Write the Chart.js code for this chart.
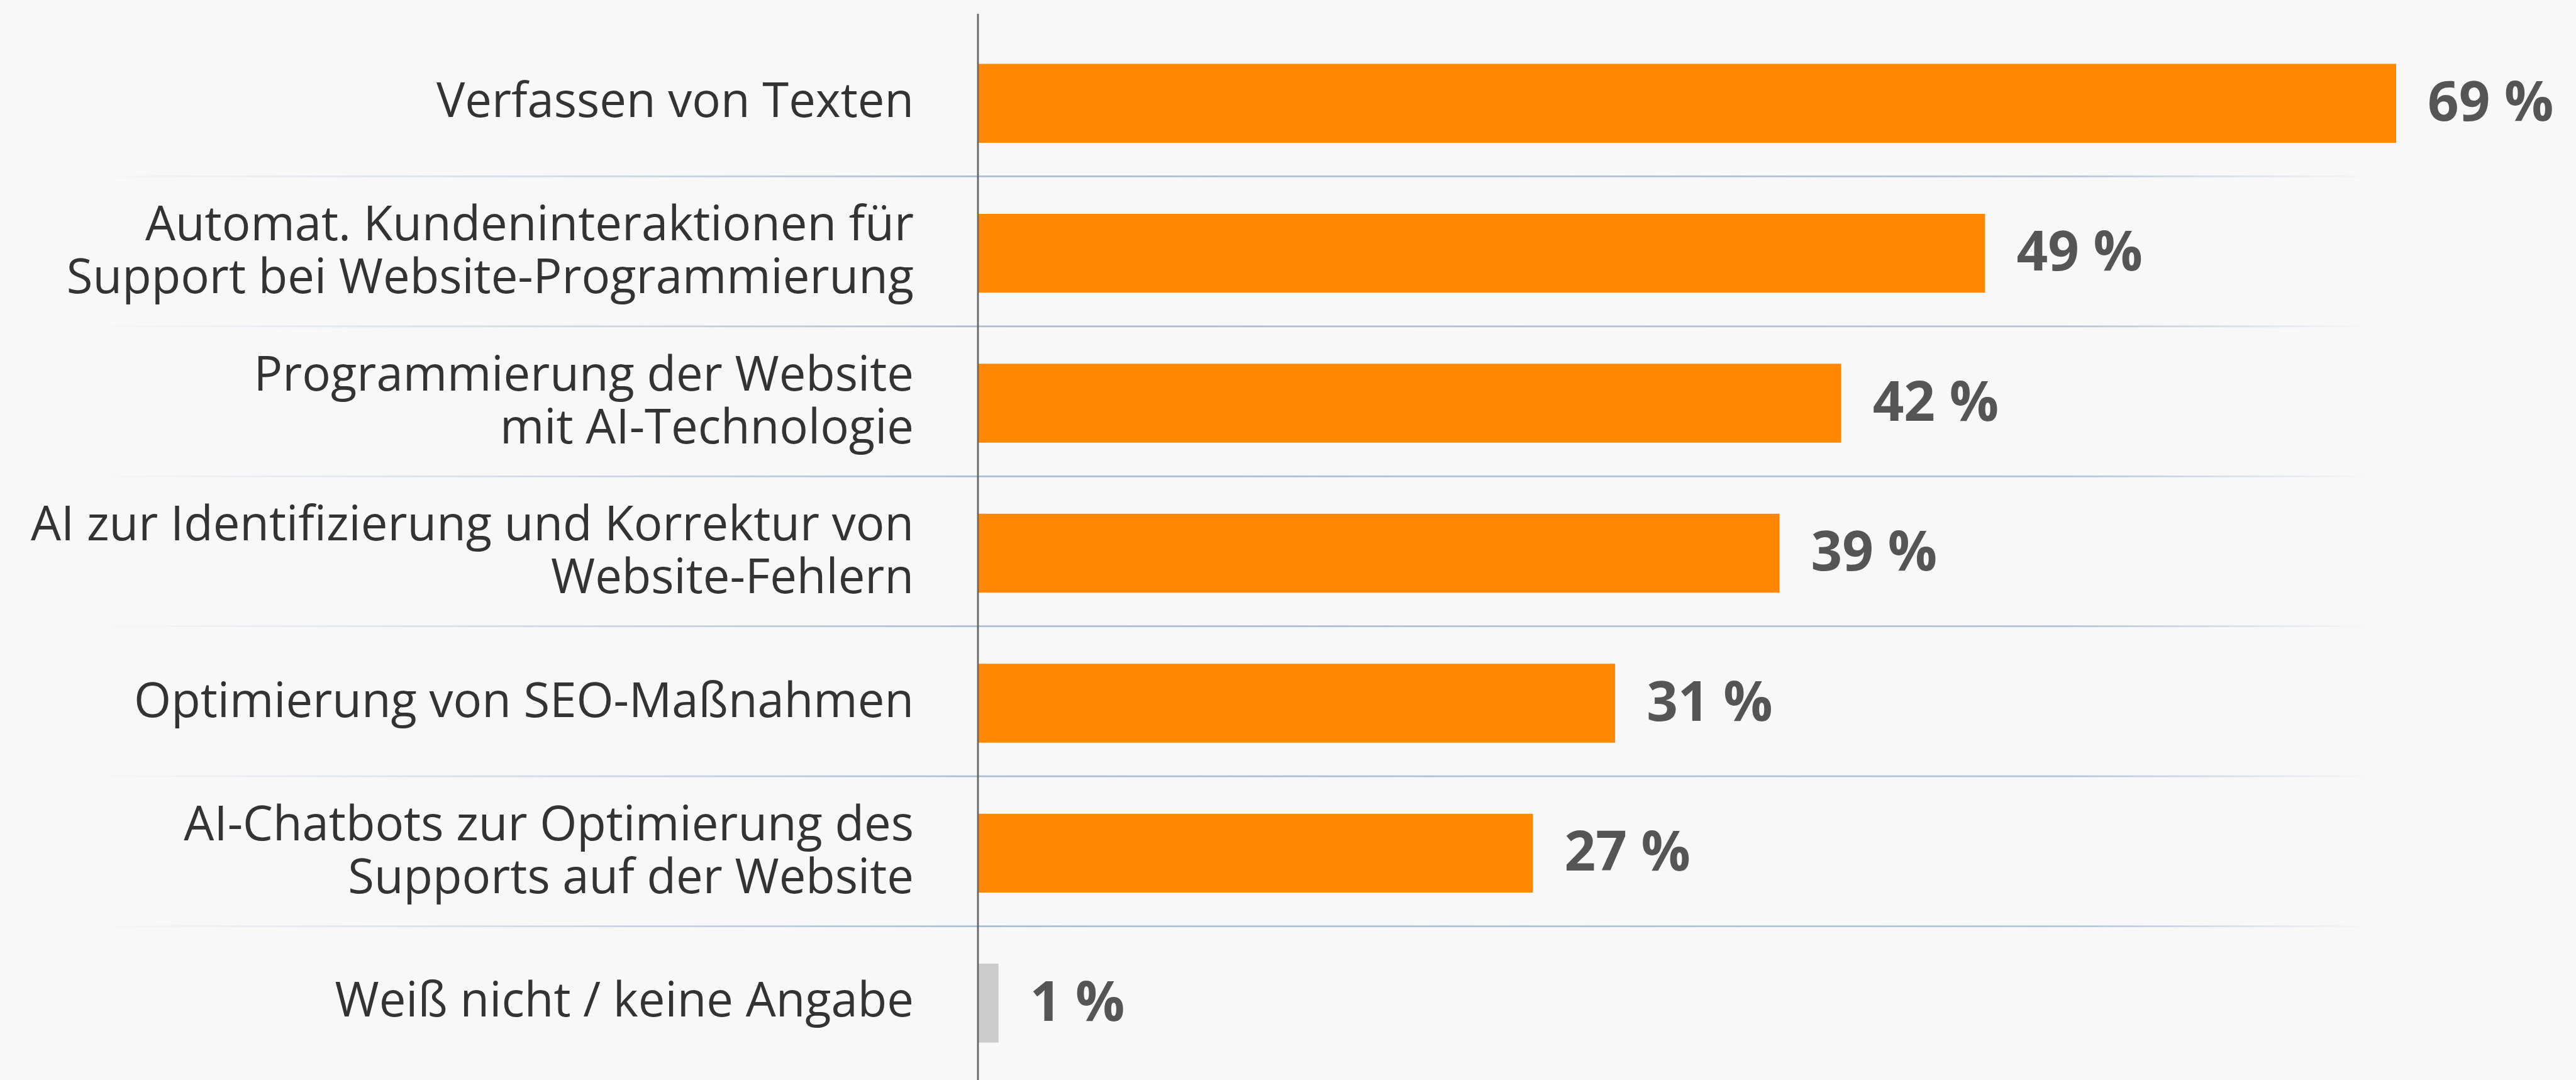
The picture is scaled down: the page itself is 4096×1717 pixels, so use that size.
<!DOCTYPE html>
<html lang="de">
<head>
    <meta charset="UTF-8">
    <title>Einsatz von AI bei Websites</title>
    <script src="https://cdn.jsdelivr.net/npm/chart.js"></script>
    <style>
        html, body {
            margin: 0;
            padding: 0;
            background: #f8f8f8;
        }
        #wrap {
            width: 4096px;
            height: 1717px;
            position: relative;
        }
    </style>
</head>
<body>
    <div id="wrap">
        <canvas id="chart"></canvas>
    </div>

    <script>
        // Daten
        const categories = [
            ['Verfassen von Texten'],
            ['Automat. Kundeninteraktionen für', 'Support bei Website-Programmierung'],
            ['Programmierung der Website', 'mit AI-Technologie'],
            ['AI zur Identifizierung und Korrektur von', 'Website-Fehlern'],
            ['Optimierung von SEO-Maßnahmen'],
            ['AI-Chatbots zur Optimierung des', 'Supports auf der Website'],
            ['Weiß nicht / keine Angabe']
        ];
        const values = [69, 49, 42, 39, 31, 27, 1];

        const ORANGE = '#ff8800';
        const GRAY = '#cccccc';
        const AXIS_X = 1555;      // linker Rand der Zeichenfläche
        const X_MAX = 77.75;      // so dass 69 % bei ~3810px endet

        // Trennlinien zwischen den Kategorien + vertikale Achse
        const decorPlugin = {
            id: 'decor',
            beforeDatasetsDraw(chart) {
                const ctx = chart.ctx;
                const y = chart.scales.y;
                const grad = ctx.createLinearGradient(141, 0, 3769, 0);
                grad.addColorStop(0, 'rgba(172,190,214,0)');
                grad.addColorStop((AXIS_X - 141) / (3769 - 141), 'rgba(172,190,214,1)');
                grad.addColorStop((3290 - 141) / (3769 - 141), 'rgba(172,190,214,0.9)');
                grad.addColorStop(1, 'rgba(172,190,214,0)');
                ctx.save();
                ctx.strokeStyle = grad;
                ctx.lineWidth = 2.8;
                for (let i = 0; i < categories.length - 1; i++) {
                    const yy = (y.getPixelForValue(i) + y.getPixelForValue(i + 1)) / 2 - 3;
                    ctx.beginPath();
                    ctx.moveTo(141, yy);
                    ctx.lineTo(3769, yy);
                    ctx.stroke();
                }
                ctx.restore();
            },
            afterDatasetsDraw(chart) {
                const ctx = chart.ctx;
                ctx.save();
                // Achse
                ctx.strokeStyle = '#666666';
                ctx.lineWidth = 2.8;
                ctx.beginPath();
                ctx.moveTo(AXIS_X, 22);
                ctx.lineTo(AXIS_X, chart.height);
                ctx.stroke();

                // Werte
                ctx.fillStyle = '#555555';
                ctx.font = 'bold 87px "Open Sans"';
                ctx.textAlign = 'left';
                ctx.textBaseline = 'middle';
                chart.getDatasetMeta(0).data.forEach((bar, i) => {
                    ctx.fillText(values[i] + ' %', bar.x + 50, bar.y + 3);
                });
                ctx.restore();
            }
        };

        new Chart(document.getElementById('chart'), {
            type: 'bar',
            data: {
                labels: categories,
                datasets: [{
                    data: values,
                    backgroundColor: ctx => ctx.index === values.length - 1 ? GRAY : ORANGE,
                    borderWidth: 0,
                    barPercentage: 0.526,
                    categoryPercentage: 1
                }]
            },
            options: {
                indexAxis: 'y',
                responsive: true,
                maintainAspectRatio: false,
                animation: false,
                devicePixelRatio: 1,
                layout: {
                    padding: { top: 45, bottom: 3, left: 0, right: 0 }
                },
                plugins: {
                    legend: { display: false },
                    tooltip: { enabled: false }
                },
                scales: {
                    x: {
                        display: false,
                        min: 0,
                        max: X_MAX
                    },
                    y: {
                        offset: true,
                        grid: { display: false, drawTicks: false },
                        border: { display: false },
                        ticks: {
                            color: '#333333',
                            padding: 102,
                            font: { family: '"Open Sans"', size: 76, lineHeight: 1.1 }
                        },
                        afterFit(scale) {
                            scale.width = AXIS_X;
                            // Tick-Padding nicht als vertikalen Rand verwenden
                            scale.paddingTop = 0;
                            scale.paddingBottom = 0;
                        }
                    }
                }
            },
            plugins: [decorPlugin]
        });
    </script>
</body>
</html>
